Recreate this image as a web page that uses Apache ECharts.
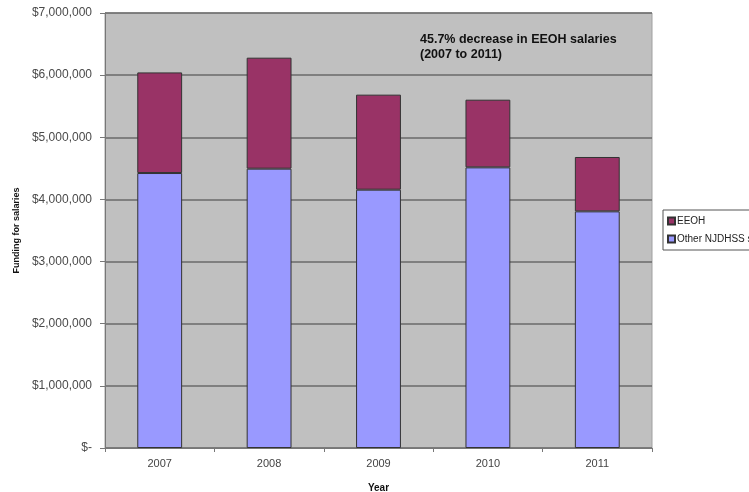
<!DOCTYPE html>
<html><head><meta charset="utf-8">
<script src="https://cdn.jsdelivr.net/npm/echarts@6/dist/echarts.min.js"></script>
<style>html,body{margin:0;padding:0;background:#fff;}#c{width:749px;height:492px;}</style>
</head><body><div id="c"></div>
<script>
const years = ['2007','2008','2009','2010','2011'];
const otherSalaries = [4425000, 4495000, 4157000, 4516000, 3808000];
const eeohSalaries = [1619000, 1786000, 1529000, 1089000, 875000];
const seriesNames = ['EEOH', 'Other NJDHSS salaries'];
const annotation = ['45.7% decrease in EEOH salaries', '(2007 to 2011)'];

const chart = echarts.init(document.getElementById('c'), null, {renderer:'canvas'});
const FONT = '"Liberation Sans", Arial, sans-serif';
chart.setOption({
  animation: false,
  backgroundColor: '#ffffff',
  grid: {left:105, right:97, top:13, bottom:44, outerBoundsMode:'none', containLabel:false,
    show:true, backgroundColor:'#c0c0c0', borderColor:'#a0a0a0', borderWidth:1},
  legend: {
    data: seriesNames, orient:'vertical', left:663, top:210,
    backgroundColor:'#ffffff', borderColor:'#555', borderWidth:1, padding:[6,4,6,4],
    itemWidth:7, itemHeight:7, itemGap:8, icon:'rect',
    textStyle:{fontFamily:FONT, fontSize:10, color:'#222', padding:[0,0,0,-3]}
  },
  xAxis: {
    type:'category', data: years, boundaryGap:true,
    name:'Year', nameLocation:'middle', nameGap:35,
    nameTextStyle:{fontFamily:FONT, fontSize:10, fontWeight:'bold', color:'#111'},
    axisLine:{lineStyle:{color:'#777', width:1}},
    axisTick:{show:true, length:4, lineStyle:{color:'#777'}},
    axisLabel:{fontFamily:FONT, fontSize:11, color:'#444', margin:10}
  },
  yAxis: {
    type:'value', min:0, max:7000000, interval:1000000,
    name:'Funding for salaries', nameLocation:'middle', nameGap:80, nameRotate:90,
    nameTextStyle:{fontFamily:FONT, fontSize:9, fontWeight:'bold', color:'#111'},
    axisLine:{show:true, lineStyle:{color:'#777', width:1}},
    axisTick:{show:true, length:5, lineStyle:{color:'#777'}},
    splitLine:{show:true, lineStyle:{color:'#6a6a6a', width:1.5}},
    axisLabel:{fontFamily:FONT, fontSize:12, color:'#4a4a4a', margin:13,
      formatter: v => v === 0 ? '$-' : '$' + v.toLocaleString('en-US')}
  },
  series: [
    {name: seriesNames[1], type:'bar', stack:'s', data: otherSalaries, barWidth:'41%',
     itemStyle:{color:'#9999ff', borderColor:'#333', borderWidth:1}},
    {name: seriesNames[0], type:'bar', stack:'s', data: eeohSalaries, barWidth:'41%',
     itemStyle:{color:'#993366', borderColor:'#333', borderWidth:1}}
  ],
  graphic: [
    {type:'text', left:420, top:32, style:{text: annotation.join('\n'), fill:'#111',
      font:'bold 12.5px ' + FONT, lineHeight:15}}
  ]
});
</script></body></html>
